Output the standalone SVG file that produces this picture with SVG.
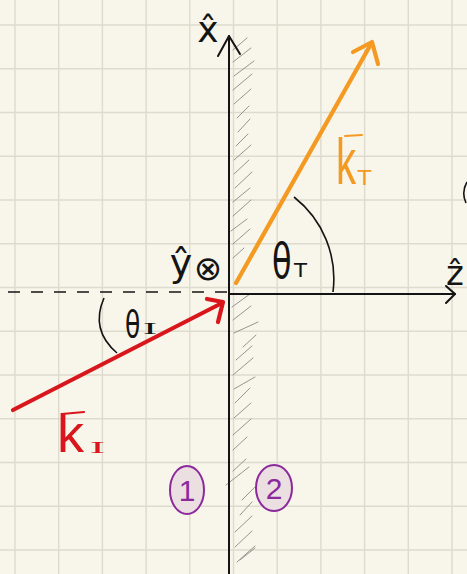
<svg xmlns="http://www.w3.org/2000/svg" width="467" height="574" viewBox="0 0 467 574">
<style>
.grid line{stroke:#dcdbcd;stroke-width:1.4}
.ax{stroke:#141414;stroke-width:2;fill:none;stroke-linecap:round;stroke-linejoin:round}
.hatch line{stroke:#8a8a84;stroke-width:0.9;stroke-linecap:round}
.red{stroke:#d9161b;stroke-width:4.2;fill:none;stroke-linecap:round;stroke-linejoin:round}
.org{stroke:#f49a22;stroke-width:4.2;fill:none;stroke-linecap:round;stroke-linejoin:round}
.t{font-family:"DejaVu Sans","Liberation Sans",sans-serif;fill:#141414}
.s{font-family:"Liberation Serif",serif}
.ls{font-family:"Liberation Sans",sans-serif}
.reg{fill:#ebdfe1;stroke:#8c2a9c;stroke-width:2}
.regt{font-family:"Liberation Sans",sans-serif;fill:#8c2a9c;font-size:30px;text-anchor:middle}
</style>
<rect width="467" height="574" fill="#f8f6eb"/>
<g class="grid">
<line x1="15" y1="0" x2="15" y2="574"/><line x1="58.7" y1="0" x2="58.7" y2="574"/><line x1="102.4" y1="0" x2="102.4" y2="574"/><line x1="146.1" y1="0" x2="146.1" y2="574"/><line x1="189.8" y1="0" x2="189.8" y2="574"/><line x1="233.5" y1="0" x2="233.5" y2="574"/><line x1="277.2" y1="0" x2="277.2" y2="574"/><line x1="320.9" y1="0" x2="320.9" y2="574"/><line x1="364.6" y1="0" x2="364.6" y2="574"/><line x1="408.3" y1="0" x2="408.3" y2="574"/><line x1="452" y1="0" x2="452" y2="574"/>
<line x1="0" y1="25" x2="467" y2="25"/><line x1="0" y1="68.8" x2="467" y2="68.8"/><line x1="0" y1="112.5" x2="467" y2="112.5"/><line x1="0" y1="156.3" x2="467" y2="156.3"/><line x1="0" y1="200" x2="467" y2="200"/><line x1="0" y1="243.8" x2="467" y2="243.8"/><line x1="0" y1="287.5" x2="467" y2="287.5"/><line x1="0" y1="331.3" x2="467" y2="331.3"/><line x1="0" y1="375" x2="467" y2="375"/><line x1="0" y1="418.8" x2="467" y2="418.8"/><line x1="0" y1="462.5" x2="467" y2="462.5"/><line x1="0" y1="506.3" x2="467" y2="506.3"/><line x1="0" y1="550" x2="467" y2="550"/>
</g>
<g id="interface-hatch" class="hatch">
<line x1="233" y1="50" x2="247" y2="38"/><line x1="233" y1="62" x2="251" y2="48"/><line x1="234" y1="76" x2="254" y2="61"/><line x1="233" y1="90" x2="252" y2="74"/><line x1="234" y1="104" x2="251" y2="89"/><line x1="237" y1="118" x2="249" y2="106"/><line x1="238" y1="132" x2="250" y2="119"/><line x1="236" y1="146" x2="248" y2="134"/><line x1="234" y1="160" x2="251" y2="145"/><line x1="234" y1="174" x2="249" y2="160"/><line x1="235" y1="188" x2="252" y2="172"/><line x1="233" y1="202" x2="250" y2="188"/><line x1="233" y1="216" x2="251" y2="200"/><line x1="231" y1="231" x2="247" y2="219"/><line x1="233" y1="244" x2="250" y2="229"/><line x1="233" y1="258" x2="244" y2="248"/>
<line x1="232" y1="307" x2="250" y2="294"/><line x1="233" y1="320" x2="251" y2="306"/><line x1="234" y1="333" x2="258" y2="322"/><line x1="243" y1="347" x2="256" y2="335"/><line x1="236" y1="360" x2="252" y2="346"/><line x1="233" y1="375" x2="253" y2="358"/><line x1="234" y1="389" x2="255" y2="377"/><line x1="235" y1="403" x2="250" y2="388"/><line x1="234" y1="418" x2="251" y2="403"/><line x1="233" y1="435" x2="251" y2="419"/><line x1="233" y1="450" x2="247" y2="437"/><line x1="226" y1="485" x2="249" y2="467"/><line x1="233" y1="471" x2="246" y2="459"/><line x1="242" y1="500" x2="255" y2="487"/><line x1="240" y1="515" x2="252" y2="502"/><line x1="235" y1="532" x2="252" y2="516"/><line x1="235" y1="547" x2="252" y2="531"/><line x1="237" y1="562" x2="255" y2="546"/><line x1="240" y1="560" x2="255" y2="548"/>
</g>
<g id="x-axis">
<path class="ax" d="M229 574 L229 36"/>
<path class="ax" d="M218 56 L229 36 L240 54"/>
<text class="t" x="208" y="42" font-size="36" text-anchor="middle">x̂</text>
</g>
<g id="z-axis">
<path class="ax" d="M229 294 L455 294"/>
<path class="ax" d="M446 286 L455 294 L446 303"/>
<text class="t" x="455" y="285" font-size="34" text-anchor="middle">ẑ</text>
</g>
<g id="normal-dashed">
<path d="M8 292 L229 292" stroke="#141414" stroke-width="1.6" stroke-dasharray="12 11" fill="none"/>
</g>
<g id="y-axis">
<text class="t" x="181" y="276" font-size="38" text-anchor="middle">ŷ</text>
<text class="t" x="208" y="280" font-size="34" text-anchor="middle">⊗</text>
</g>
<g id="connectors">
<g id="k-incident">
<path class="red" d="M13 410 L222 303"/>
<path class="red" d="M207 299 L223 302 L218 322"/>
</g>
<g id="k-transmitted">
<path class="org" d="M236 283 L371 44"/>
<path class="org" d="M353 52 L372 42 L378 64"/>
</g>
</g>
<g id="theta-I">
<path d="M104 298 Q90 330 117 353" stroke="#141414" stroke-width="1.6" fill="none"/>
<text class="t" transform="translate(125 337) scale(1 1.5)" font-size="25">θ</text>
<text class="t s" x="143" y="334" font-size="16" textLength="14" lengthAdjust="spacingAndGlyphs">I</text>
</g>
<g id="theta-T">
<path d="M294 197 A104 104 0 0 1 333 292" stroke="#141414" stroke-width="1.6" fill="none"/>
<text class="t" transform="translate(272 278) scale(1 1.5)" font-size="32">θ</text>
<text class="t" x="294" y="277" font-size="19" textLength="13" lengthAdjust="spacingAndGlyphs">T</text>
</g>
<g id="label-kI">
<line x1="62" y1="414" x2="84" y2="412" stroke="#d9161b" stroke-width="2.2" stroke-linecap="round"/>
<text class="ls" x="57" y="452" font-size="54" fill="#d9161b">k</text>
<text class="s" x="90" y="453" font-size="17" fill="#d9161b" textLength="15" lengthAdjust="spacingAndGlyphs">I</text>
</g>
<g id="label-kT">
<line x1="345" y1="136" x2="362" y2="135" stroke="#f49a22" stroke-width="2" stroke-linecap="round"/>
<text class="ls" transform="translate(336 184) scale(1 1.6)" font-size="40" fill="#f49a22">k</text>
<text class="ls" x="357" y="185" font-size="22" fill="#f49a22" textLength="15" lengthAdjust="spacingAndGlyphs">T</text>
</g>
<g id="region-1">
<ellipse class="reg" cx="187" cy="490" rx="17" ry="24"/>
<text class="regt" x="187" y="501">1</text>
</g>
<g id="region-2">
<ellipse class="reg" cx="274" cy="488" rx="18" ry="23"/>
<text class="regt" x="274" y="499">2</text>
</g>
<path d="M467 182 Q461 192 466 203" stroke="#141414" stroke-width="1.6" fill="none"/>
</svg>
